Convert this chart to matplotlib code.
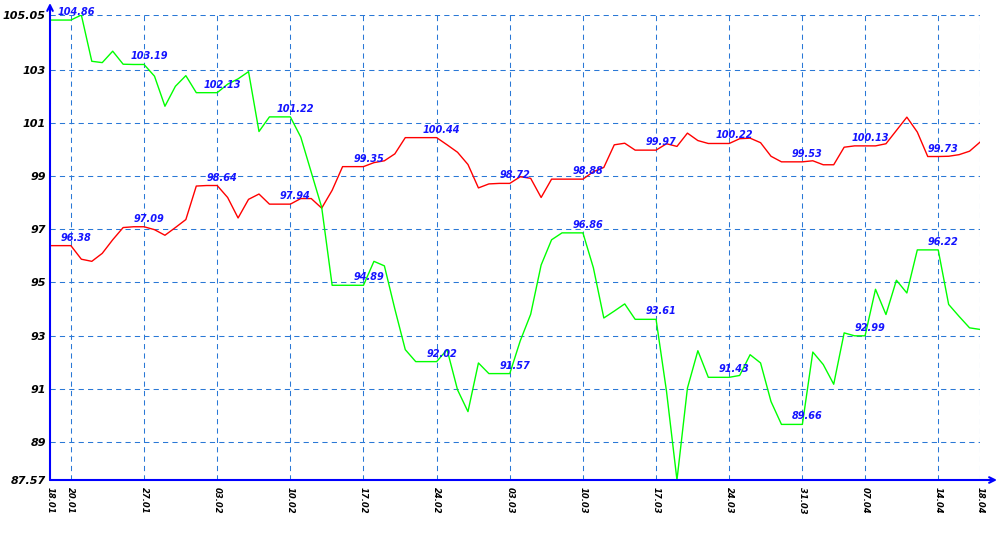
import matplotlib
matplotlib.use("Agg")
import matplotlib.pyplot as plt

# one value per trading-day slot
green = [104.86, 104.86, 104.86, 105.05, 103.31, 103.26, 103.69, 103.2, 103.19, 103.19,
         102.75, 101.62, 102.37, 102.77, 102.13, 102.13, 102.13, 102.45, 102.65, 102.92,
         100.67, 101.22, 101.22, 101.22, 100.46, 99.14, 97.82, 94.89, 94.89, 94.89,
         94.89, 95.79, 95.62, 94.0, 92.47, 92.02, 92.02, 92.02, 92.47, 90.96,
         90.14, 91.97, 91.57, 91.57, 91.57, 92.8, 93.8, 95.65, 96.6, 96.86,
         96.86, 96.86, 95.55, 93.66, 93.92, 94.19, 93.61, 93.61, 93.61, 90.9,
         87.57, 91.02, 92.43, 91.43, 91.43, 91.43, 91.5, 92.28, 91.97, 90.52,
         89.66, 89.66, 89.66, 92.38, 91.91, 91.17, 93.1, 92.99, 92.99, 94.74,
         93.79, 95.08, 94.6, 96.22, 96.22, 96.22, 94.17, 93.72, 93.29, 93.23]

red = [96.38, 96.38, 96.38, 95.87, 95.79, 96.09, 96.6, 97.06, 97.09, 97.09,
       96.98, 96.77, 97.06, 97.36, 98.62, 98.64, 98.64, 98.19, 97.42, 98.12,
       98.32, 97.94, 97.94, 97.94, 98.15, 98.15, 97.79, 98.46, 99.35, 99.35,
       99.35, 99.5, 99.57, 99.83, 100.44, 100.44, 100.44, 100.44, 100.17, 99.89,
       99.43, 98.55, 98.7, 98.72, 98.72, 98.97, 98.91, 98.19, 98.88, 98.88,
       98.88, 98.88, 99.16, 99.32, 100.17, 100.23, 99.97, 99.97, 99.97, 100.21,
       100.11, 100.61, 100.33, 100.22, 100.22, 100.22, 100.4, 100.42, 100.25, 99.74,
       99.53, 99.53, 99.53, 99.57, 99.42, 99.42, 100.08, 100.13, 100.13, 100.13,
       100.21, 100.71, 101.21, 100.65, 99.73, 99.73, 99.74, 99.8, 99.93, 100.27]

tick_idx = [0, 2, 9, 16, 23, 30, 37, 44, 51, 58, 65, 72, 78, 85, 89]
tick_labels = ["18.01", "20.01", "27.01", "03.02", "10.02", "17.02", "24.02", "03.03",
               "10.03", "17.03", "24.03", "31.03", "07.04", "14.04", "18.04"]
y_ticks = [87.57, 89, 91, 93, 95, 97, 99, 101, 103, 105.05]

x = list(range(len(green)))
grid_col = "#2a78d6"
axis_col = "#0000ff"

fig = plt.figure(figsize=(10, 5.5), dpi=100)
ax = fig.add_axes([0.05, 1 - 480 / 550, 0.93, 465 / 550])

ax.set_xlim(0, len(green) - 1)
ax.set_ylim(min(y_ticks), max(y_ticks))

for v in y_ticks[1:]:
    ax.axhline(v, color=grid_col, lw=0.75, ls=(0, (5, 4)), zorder=1)
for i in tick_idx[1:]:
    ax.axvline(i, color=grid_col, lw=0.75, ls=(0, (5, 4)), zorder=1)

ax.plot(x, red, color="#ff0000", lw=1.0, zorder=3)
ax.plot(x, green, color="#00ff00", lw=1.0, zorder=3)

for i in tick_idx[1:-1]:
    for s in (green, red):
        ax.annotate("%.2f" % s[i], (i, s[i]), xytext=(5, 3), textcoords="offset pixels",
                    ha="center", va="bottom", color="#1414ff", fontsize=7,
                    fontweight="bold", fontstyle="italic", zorder=4)

ax.set_xticks(tick_idx)
ax.set_xticklabels(tick_labels, rotation=270, fontsize=6, fontweight="bold",
                   fontstyle="italic", va="top", ha="center")
ax.set_yticks(y_ticks)
ax.set_yticklabels(["%g" % v for v in y_ticks], fontsize=8, fontweight="bold",
                   fontstyle="italic")
ax.tick_params(axis="x", length=0, pad=5)
ax.tick_params(axis="y", length=0, pad=3)

for sp in ax.spines.values():
    sp.set_visible(False)

# axes with arrow heads
ax.annotate("", xy=(0, 1 + 12 / 465), xytext=(0, 0), xycoords="axes fraction",
            arrowprops=dict(arrowstyle="->", color=axis_col, lw=1.5,
                            shrinkA=0, shrinkB=0), annotation_clip=False)
ax.annotate("", xy=(1 + 17 / 930, 0), xytext=(0, 0), xycoords="axes fraction",
            arrowprops=dict(arrowstyle="->", color=axis_col, lw=1.5,
                            shrinkA=0, shrinkB=0), annotation_clip=False)

fig.savefig("out.png", dpi=100, facecolor="white")
